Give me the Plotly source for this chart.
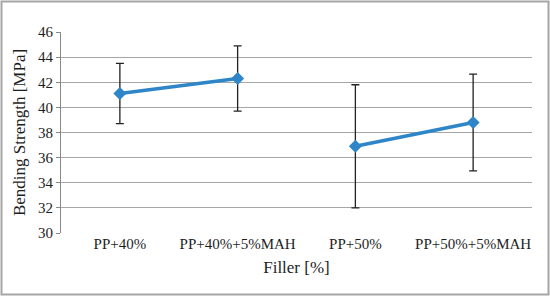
import plotly.graph_objects as go

categories = ["PP+40%", "PP+40%+5%MAH", "PP+50%", "PP+50%+5%MAH"]
strength = [41.1, 42.3, 36.9, 38.8]
err_plus = [2.4, 2.6, 4.9, 3.85]
err_minus = [2.4, 2.6, 4.9, 3.85]
# line is drawn in two pieces: 40% filler pair and 50% filler pair
groups = [[0, 1], [2, 3]]
y_ticks = [30, 32, 34, 36, 38, 40, 42, 44, 46]

W, H = 550, 296
ml, mr, mt, mb = 61, 18, 32, 63

fig = go.Figure()
for g in groups:
    fig.add_trace(go.Scatter(
        x=[categories[i] for i in g], y=[strength[i] for i in g],
        mode="lines+markers",
        line=dict(color="#2E86C8", width=3.5),
        marker=dict(symbol="diamond", size=10, color="#2E86C8"),
        error_y=dict(type="data", symmetric=False,
                     array=[err_plus[i] for i in g],
                     arrayminus=[err_minus[i] for i in g],
                     color="#222222", thickness=1.3, width=4),
    ))

pw, ph = W - ml - mr, H - mt - mb
fig.add_shape(type="rect", xref="paper", yref="paper",
              x0=-(ml - 1.5) / pw, x1=1 + (mr - 1.5) / pw,
              y0=-(mb - 1.5) / ph, y1=1 + (mt - 1.5) / ph,
              line=dict(color="#A6A6A6", width=2), layer="below")

fig.update_layout(
    width=W, height=H,
    margin=dict(l=ml, r=mr, t=mt, b=mb, autoexpand=False),
    paper_bgcolor="white", plot_bgcolor="white",
    showlegend=False,
    font=dict(family="Liberation Serif", size=14, color="#1e1e1e"),
)
fig.update_xaxes(
    title=dict(text="Filler [%]", standoff=10),
    categoryorder="array", categoryarray=categories,
    range=[-0.5, 3.5],
    showgrid=False, showline=False, ticks="",
    tickfont=dict(size=15),
    automargin=False,
)
fig.update_yaxes(
    title=dict(text="Bending Strength [MPa]", standoff=8),
    range=[30, 46], tickvals=y_ticks,
    showgrid=True, gridcolor="#A6A6A6", gridwidth=1.3,
    showline=True, linecolor="#888888", linewidth=1,
    ticks="outside", ticklen=4, tickcolor="#888888",
    tickfont=dict(size=15),
    zeroline=False, automargin=False,
)

# page body has a default margin; drop it so the chart sits at the window origin
fig.write_html("out.html", config={"displayModeBar": False},
               post_script="document.body.style.margin='0';")
